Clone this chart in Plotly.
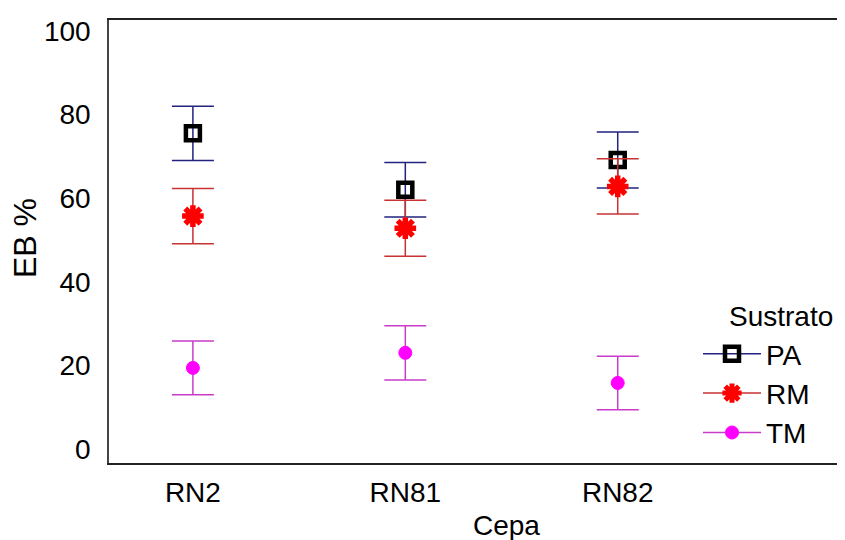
import plotly.graph_objects as go

cepas = ["RN2", "RN81", "RN82"]
sustratos = ["PA", "RM", "TM"]
pa_mean = [75.5, 62.0, 69.1]
pa_err = [6.5, 6.5, 6.7]
rm_mean = [55.7, 52.8, 62.8]
rm_err = [6.6, 6.7, 6.6]
tm_mean = [19.4, 23.0, 15.8]
tm_err = [6.4, 6.5, 6.4]
y_ticks = [0, 20, 40, 60, 80, 100]

FONT = "Liberation Sans, Arial, sans-serif"

series = [
    ("PA", pa_mean, pa_err, "#23237f",
     dict(symbol="square-open", size=14, color="black", line=dict(color="black", width=4.5))),
    ("RM", rm_mean, rm_err, "#c83232",
     dict(symbol="asterisk-open", size=18, color="#ff0000", line=dict(color="#ff0000", width=5.5))),
    ("TM", tm_mean, tm_err, "#c93cc9",
     dict(symbol="circle", size=13, color="#ff00ff", line=dict(color="#ff00ff", width=1))),
]

fig = go.Figure()
for name, mean, err, ecol, mk in series:
    fig.add_trace(go.Scatter(
        x=list(range(len(cepas))), y=mean, mode="markers", name=name,
        marker=mk, showlegend=False,
        error_y=dict(type="data", array=err, color=ecol, thickness=1.5, width=21),
    ))
for name, mean, err, ecol, mk in series:
    fig.add_trace(go.Scatter(
        x=[None], y=[None], mode="lines+markers", name=name,
        marker=mk, line=dict(color=ecol, width=1.5), showlegend=True,
    ))

PW, PH = 736, 443  # plot area size in px

fig.update_layout(
    width=837, height=532,
    margin=dict(l=101, r=0, t=12, b=77, autoexpand=False),
    paper_bgcolor="white", plot_bgcolor="white",
    font=dict(family=FONT, size=28, color="black"),
    showlegend=True,
    legend=dict(x=(698 - 109) / PW, y=(463 - 329) / PH, xanchor="left", yanchor="top",
                bgcolor="rgba(0,0,0,0)", font=dict(size=28), tracegroupgap=0,
                itemwidth=58),
    xaxis=dict(range=[-0.395, 3.07], tickmode="array", tickvals=[0, 1, 2], ticktext=cepas,
               showline=True, linecolor="#222", linewidth=1.5, mirror=True, automargin=False,
               showgrid=False, zeroline=False, ticks="", ticklabelstandoff=4),
    yaxis=dict(range=[-3.35, 102.6], tickmode="array", tickvals=y_ticks,
               showline=True, linecolor="#444", linewidth=1.5, mirror=False, automargin=False,
               showgrid=False, zeroline=False, ticks="", ticklabelstandoff=11),
    annotations=[
        dict(text="Cepa", x=(506 - 109) / PW, y=-(525 - 463) / PH, xref="paper", yref="paper",
             xanchor="center", yanchor="middle", showarrow=False, font=dict(size=28)),
        dict(text="EB %", x=-(109 - 25) / PW, y=(463 - 238) / PH, xref="paper", yref="paper",
             textangle=-90, xanchor="center", yanchor="middle", showarrow=False,
             font=dict(size=32)),
        dict(text="Sustrato", x=(781 - 109) / PW, y=(463 - 316) / PH, xref="paper", yref="paper",
             xanchor="center", yanchor="middle", showarrow=False, font=dict(size=28)),
    ],
)

fig.write_html("out.html")
